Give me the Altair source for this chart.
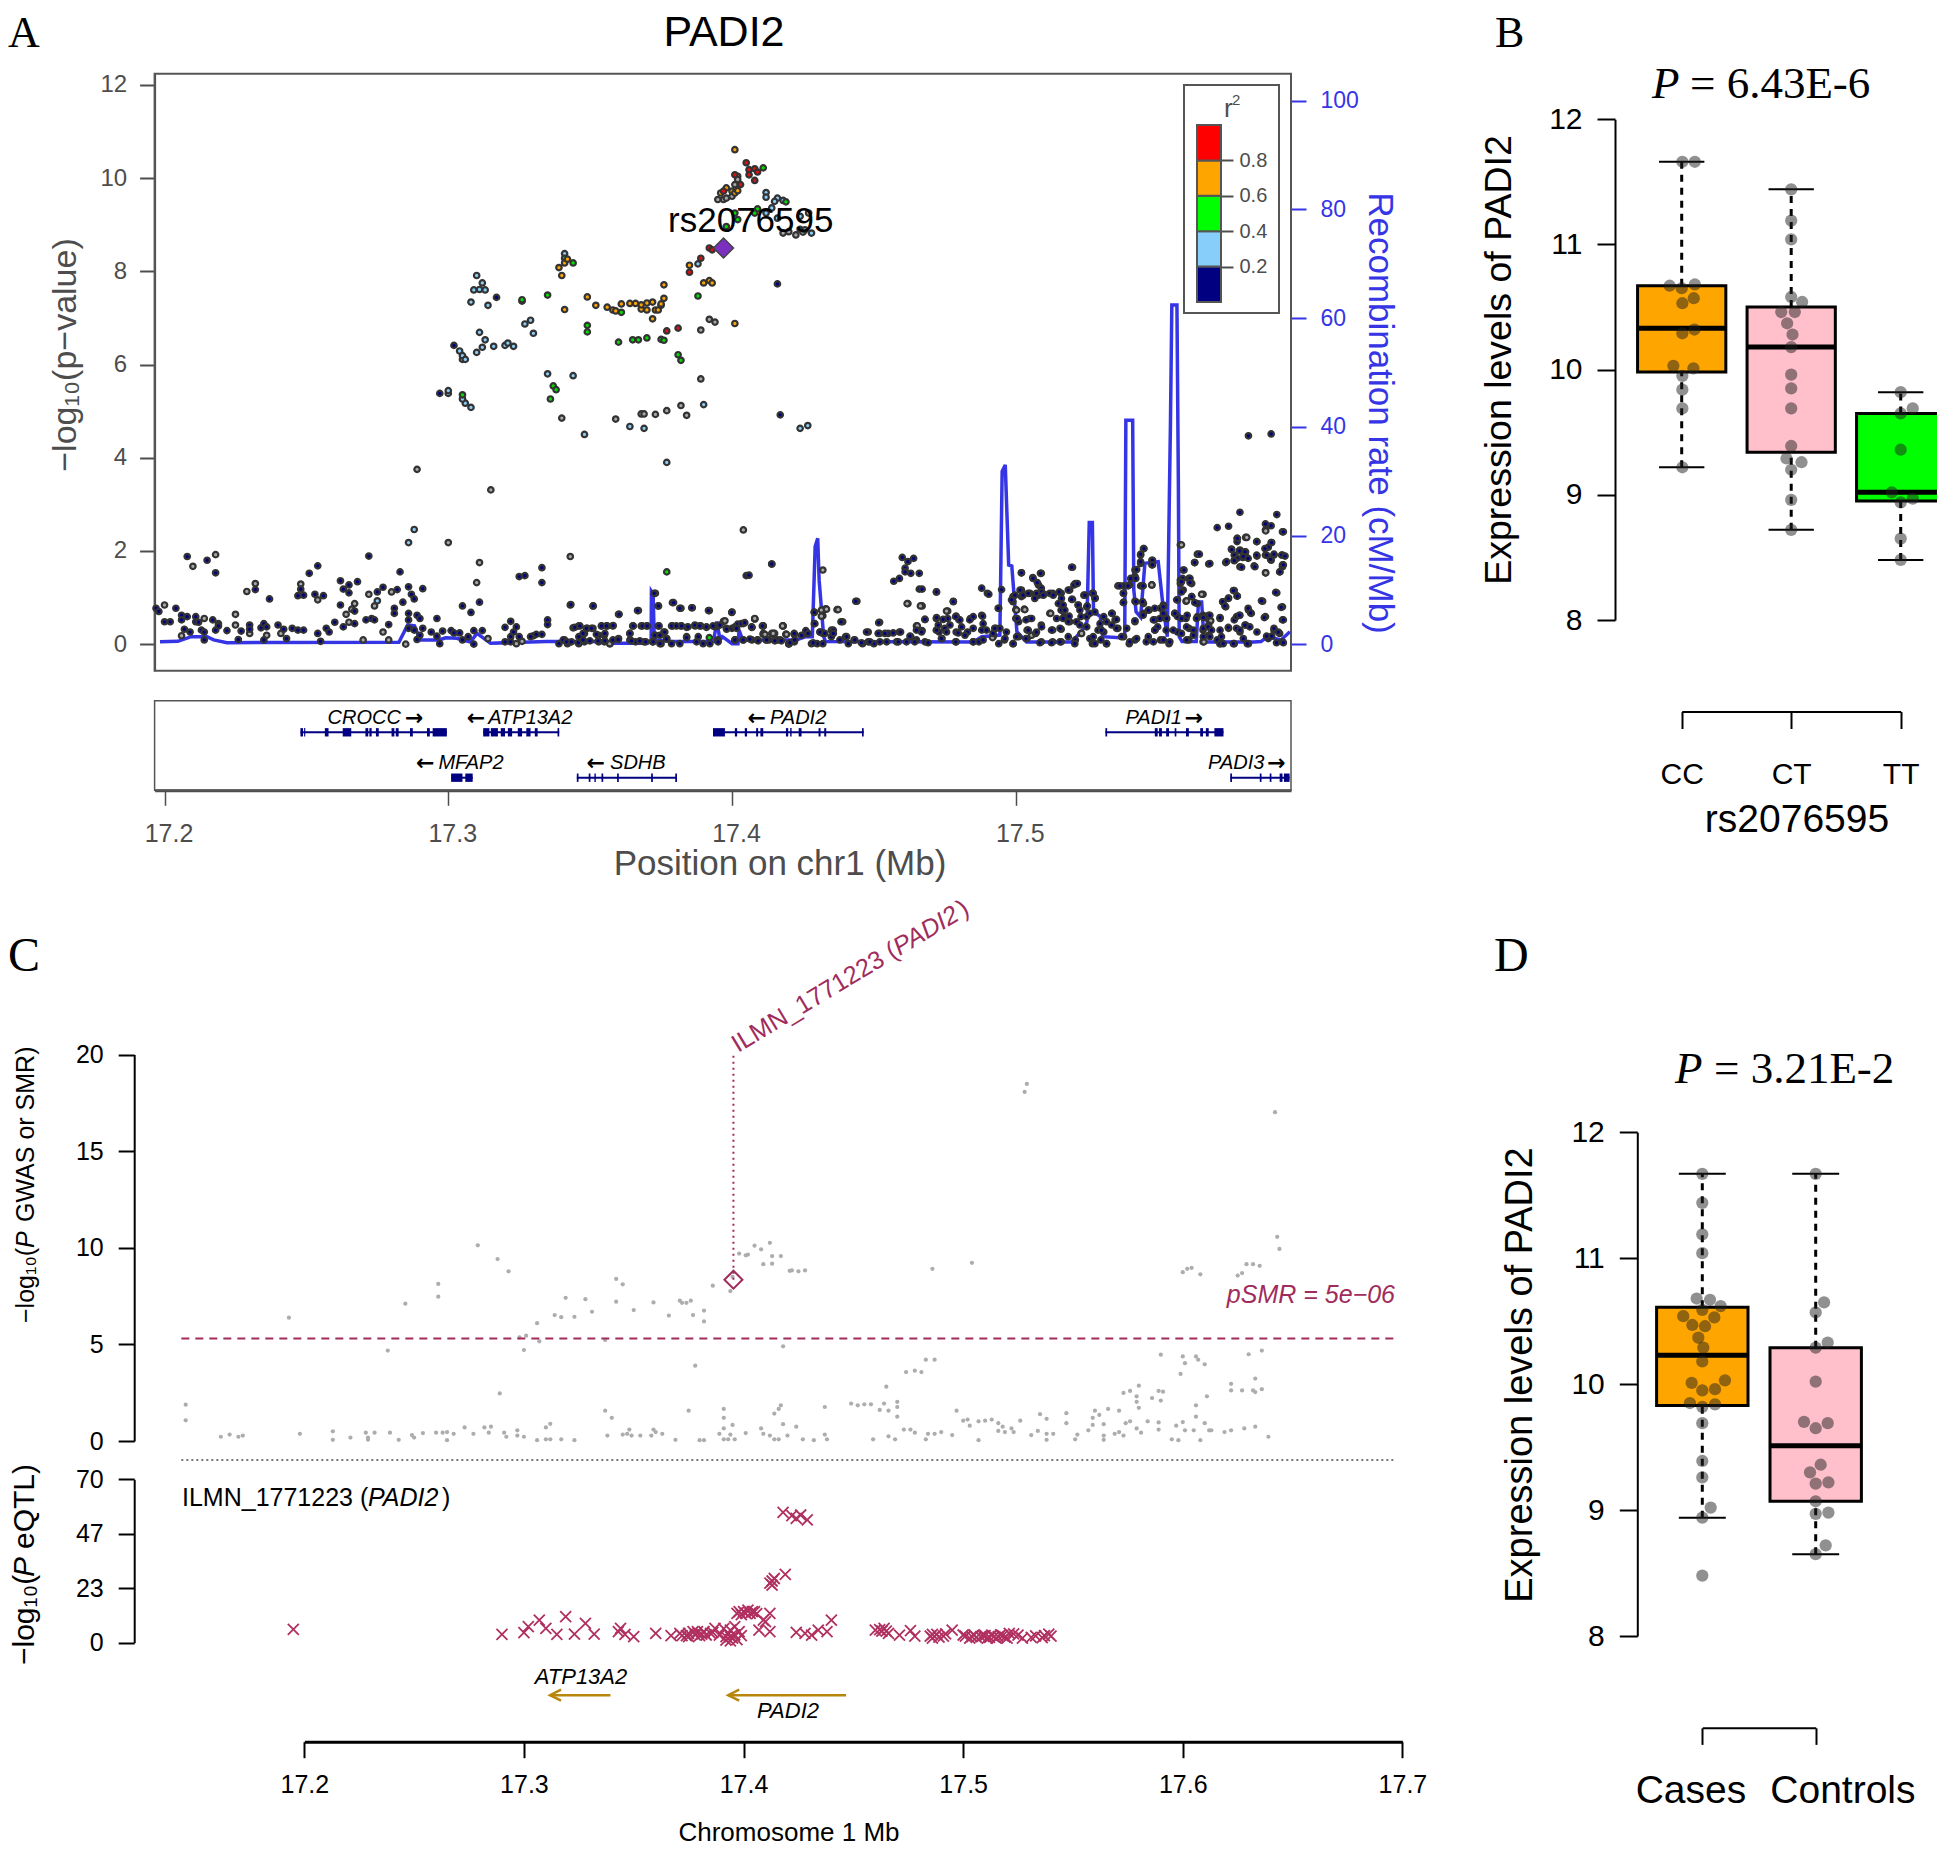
import altair as alt
import pandas as pd

# ---------- panel A: locus plot, (position Mb, -log10 p) per r2 class ----------
A_NAVY = [(17.197,.77),(17.198,.70),(17.204,.77),(17.200,.48),(17.202,.48),(17.206,.62),(17.206,.52),(17.207,.32),(17.208,1.88),(17.208,.59),(17.209,.26),(17.211,.59),(17.211,.48),(17.212,.47),(17.213,.30),(17.215,1.80),(17.214,.26),(17.214,.09),(17.217,.52),(17.218,1.53),(17.219,.44),(17.218,.30),(17.219,.39),(17.222,.29),(17.226,.10),(17.227,.28),(17.230,.41),(17.230,.32),(17.232,1.17),(17.234,.35),(17.235,.44),(17.235,.09),(17.236,.37),(17.237,.97),(17.240,.41),(17.242,.32),(17.243,.12),(17.245,.34),(17.247,.30),(17.249,.30),(17.247,1.04),(17.249,1.05),(17.248,1.18),(17.251,1.52),(17.254,1.68),(17.253,1.07),(17.256,1.04),(17.254,.23),(17.255,.06),(17.257,.34),(17.258,.26),(17.260,.47),(17.263,.37),(17.267,.44),(17.262,1.36),(17.263,1.18),(17.265,1.27),(17.265,1.10),(17.262,.84),(17.268,1.34),(17.267,.71),(17.271,.52),(17.272,1.89),(17.273,.55),(17.274,.52),(17.279,.42),(17.275,1.12),(17.277,1.22),(17.282,1.17),(17.283,1.55),(17.284,.90),(17.281,.77),(17.281,.66),(17.286,.66),(17.286,1.23),(17.287,1.07),(17.288,.97),(17.291,1.19),(17.289,.62),(17.290,.55),(17.286,.52),(17.286,.34),(17.289,.10),(17.288,.30),(17.290,.19),(17.291,.34),(17.294,.26),(17.296,.55),(17.298,.28),(17.296,.17),(17.297,.01),(17.301,.29),(17.302,.24),(17.304,.24),(17.305,.82),(17.305,.09),(17.307,.16),(17.308,.68),(17.309,.29),(17.309,0),(17.311,.90),(17.312,.29),(17.320,.36),(17.322,.49),(17.323,.26),(17.324,.37),(17.322,.16),(17.320,.05),(17.322,.05),(17.325,.16),(17.325,1.45),(17.327,1.47),(17.329,.16),(17.331,.21),(17.333,.21),(17.333,1.32),(17.333,1.64),(17.335,.52),(17.335,.42),(17.339,.01),(17.341,.09),(17.342,.01),(17.343,.84),(17.344,.35),(17.346,.39),(17.346,.01),(17.346,.16),(17.348,.23),(17.349,.34),(17.351,.34),(17.348,.05),(17.351,.82),(17.353,.19),(17.353,.05),(17.354,.39),(17.356,.39),(17.358,.39),(17.355,.19),(17.355,.05),(17.358,.09),(17.360,.64),(17.360,.12),(17.364,.23),(17.365,.39),(17.364,.09),(17.367,.72),(17.366,.05),(17.368,.39),(17.370,.39),(17.369,.05),(17.373,1.09),(17.374,.82),(17.374,.39),(17.373,.19),(17.372,.05),(17.375,.01),(17.376,.26),(17.377,.12),(17.379,.89),(17.379,.39),(17.382,.77),(17.382,.39),(17.384,.16),(17.384,.36),(17.386,.78),(17.387,.39),(17.389,.39),(17.391,.36),(17.392,.72),(17.394,.37),(17.395,.39),(17.395,.09),(17.398,.34),(17.400,.69),(17.400,.34),(17.401,.37),(17.402,.43),(17.404,.44),(17.401,.09),(17.404,.09),(17.405,1.47),(17.407,.09),(17.407,.36),(17.409,.09),(17.411,.39),(17.412,.09),(17.414,1.72),(17.415,.09),(17.417,.09),(17.420,0),(17.422,.21),(17.422,.05)]
A_NAVY_2 = [(17.414,1.72),(17.406,1.48),(17.411,.39),(17.407,.36),(17.413,.09),(17.409,.09),(17.416,.09),(17.420,.01),(17.422,.21),(17.426,.23),(17.426,.29),(17.429,.69),(17.429,.44),(17.428,.01),(17.431,.26),(17.432,.23),(17.430,.01),(17.432,.01),(17.435,.30),(17.435,.16),(17.439,.48),(17.438,.09),(17.440,.16),(17.443,.09),(17.441,.01),(17.444,.92),(17.446,.01),(17.448,.26),(17.448,.05),(17.450,.01),(17.452,.47),(17.452,.23),(17.455,.23),(17.459,.26),(17.458,.05),(17.463,.16),(17.465,.30),(17.467,.29),(17.465,.09),(17.468,.05),(17.468,.53),(17.457,1.35),(17.459,1.41),(17.460,1.86),(17.464,1.84),(17.462,1.77),(17.461,1.63),(17.461,1.55),(17.463,1.52),(17.466,1.52),(17.466,1.18),(17.467,1.18),(17.472,1.12),(17.472,.55),(17.476,.55),(17.472,.30),(17.473,.26),(17.475,.34),(17.474,.12),(17.478,.92),(17.479,.60),(17.480,.52),(17.479,.26),(17.479,.05),(17.484,.55),(17.483,.26),(17.485,.05),(17.488,.62),(17.488,1.20),(17.490,1.09),(17.488,.30),(17.487,.05),(17.493,.34),(17.492,.23),(17.494,.77),(17.495,1.17),(17.494,.01),(17.496,.09),(17.499,.01),(17.501,.16),(17.502,1.53),(17.499,.91),(17.499,1.02),(17.502,1.16),(17.502,1.02),(17.505,1.09),(17.501,.48),(17.500,.55),(17.504,.30),(17.505,.55),(17.504,.12),(17.509,.41),(17.507,.23),(17.509,.05),(17.506,1.43),(17.509,1.52),(17.508,1.27),(17.509,1.20),(17.508,1.05),(17.510,1.07),(17.513,1.09),(17.516,1.09),(17.515,.87),(17.516,.73),(17.517,.59),(17.519,.48),(17.513,.30),(17.516,.32),(17.513,.05),(17.516,.05),(17.519,1.16),(17.521,1.30),(17.520,1.65),(17.520,.96),(17.522,.84),(17.523,.59),(17.525,.80),(17.524,1.05),(17.527,1.09),(17.528,.99),(17.525,.37),(17.521,.09),(17.527,.01),(17.529,.30),(17.531,.59),(17.531,.26),(17.530,.09),(17.532,.01),(17.534,.66),(17.535,.52),(17.536,.34),(17.538,.16),(17.536,1.25),(17.538,1.25),(17.540,1.27),(17.538,1.09),(17.538,.90),(17.542,1.45),(17.542,1.59),(17.544,1.73),(17.544,1.91),(17.545,2.05),(17.548,1.80),(17.548,1.70),(17.544,1.25),(17.542,.92),(17.545,.87),(17.545,.66),(17.547,.73),(17.542,.48),(17.540,.01),(17.542,.09),(17.546,.05),(17.549,.52),(17.549,.30),(17.551,.77),(17.552,.84),(17.552,.66),(17.553,.55),(17.550,.37),(17.553,.30),(17.551,.09),(17.554,.01),(17.556,.66),(17.557,.59),(17.558,1.37),(17.558,1.30),(17.559,1.59),(17.561,1.41),(17.562,1.30),(17.559,1.16),(17.557,.95),(17.562,1.02),(17.564,.87),(17.560,.55),(17.561,.34),(17.557,.26),(17.561,.09),(17.564,.59),(17.566,.62),(17.568,.62),(17.568,.41),(17.566,.30),(17.568,.19),(17.572,.55),(17.571,.09),(17.572,.01),(17.573,.91),(17.575,.99),(17.577,1.15),(17.578,1.03),(17.574,.80),(17.579,.62),(17.577,.52),(17.575,.34),(17.579,.26),(17.577,.01),(17.581,.41),(17.582,.73),(17.583,.66),(17.587,.92),(17.588,.59),(17.585,.26),(17.582,.01),(17.589,.12),(17.591,.30),(17.593,.23),(17.594,.05),(17.594,.80),(17.594,.52),(17.592,1.10),(17.593,1.55),(17.594,1.66),(17.584,1.68),(17.579,1.66),(17.574,1.75),(17.568,1.72),(17.563,1.75),(17.564,1.93),(17.571,2.50),(17.575,2.53),(17.579,2.83),(17.592,2.78),(17.588,2.58),(17.590,2.54),(17.585,2.20),(17.578,2.27),(17.578,2.20),(17.590,2.18),(17.589,2.08),(17.576,2.04),(17.579,2.02),(17.581,1.98),(17.577,1.91),(17.581,1.88),(17.578,1.84),(17.585,1.89),(17.588,1.91),(17.591,1.91),(17.594,1.91),(17.594,2.41),(17.594,1.70),(17.590,1.80),(17.577,1.80),(17.580,1.86),(17.582,4.47),(17.590,4.51)]
A_NAVY_3 = [(17.297,5.38),(17.302,6.41),(17.317,7.44),(17.416,7.73),(17.417,4.92)]
A_NAVY_4 = [(17.4985,.95),(17.4997,1.05),(17.5015,1.16),(17.5026,1.05),(17.5044,1.09),(17.5067,.98),(17.5073,1.09),(17.5091,1.12),(17.5097,1.05),(17.5120,1.09),(17.5132,1.05),(17.5153,1.12),(17.5161,.98),(17.5167,.84),(17.5161,.73),(17.5173,.73),(17.5197,.96),(17.5185,1.16),(17.5205,1.27),(17.5217,1.30),(17.5061,1.41),(17.5076,1.32),(17.5087,1.52),(17.5020,1.53),(17.5197,1.65),(17.5244,1.05),(17.5273,1.09),(17.5279,.98),(17.5220,.84),(17.5226,.73),(17.5252,.82),(17.5144,.55),(17.5167,.55),(17.5188,.60),(17.5185,.48),(17.5214,.48),(17.5226,.41),(17.5250,.59),(17.5261,.66),(17.5279,.69),(17.5297,.44),(17.5320,.48),(17.5338,.66),(17.5355,.53),(17.5338,.41),(17.5355,.34),(17.5391,.34),(17.5420,.50),(17.5373,.16),(17.5402,.05),(17.5426,.12),(17.5467,.16),(17.5485,.05),(17.5520,.09),(17.5543,.05),(17.5490,.30),(17.5485,.52),(17.5508,.55),(17.5532,.55),(17.5520,.80),(17.5467,.73),(17.5490,.77),(17.5449,.62),(17.5423,.91),(17.5447,.91),(17.5379,.89),(17.5379,1.09),(17.5367,1.25),(17.5396,1.25),(17.5405,1.41),(17.5423,1.41),(17.5426,1.60),(17.5440,1.77),(17.5440,1.93),(17.5452,2.05),(17.5482,1.80),(17.5482,1.70),(17.5449,1.25),(17.5561,.66),(17.5584,.55),(17.5604,.62),(17.5567,.95),(17.5584,1.12),(17.5588,1.41),(17.5593,1.59),(17.5584,1.34),(17.5614,1.41),(17.5614,1.32),(17.5631,1.75),(17.5647,1.93),(17.5684,1.73),(17.5620,1.02),(17.5631,.89),(17.5637,.55),(17.5661,.57),(17.5684,.62),(17.5720,.57),(17.5767,1.15),(17.5781,1.03),(17.5749,.98),(17.5729,.91),(17.5737,.82),(17.5778,.59),(17.5788,.62),(17.5819,.77),(17.5828,.67),(17.5876,.57),(17.5866,.93),(17.5916,1.11),(17.5935,.79),(17.5943,.52),(17.5555,.30),(17.5584,.23),(17.5602,.37),(17.5626,.30),(17.5661,.34),(17.5678,.37),(17.5690,.30),(17.5661,.16),(17.5684,.16),(17.5720,.30),(17.5725,.16),(17.5749,.36),(17.5778,.34),(17.5808,.41),(17.5825,.37),(17.5790,.30),(17.5802,.12),(17.5767,.01),(17.5816,.01),(17.5910,.34),(17.5925,.26),(17.5884,.17),(17.5902,.17),(17.5943,.03),(17.5919,.03),(17.5720,.01),(17.5731,.01),(17.5602,.09),(17.5626,.19),(17.5085,.03),(17.5126,.03),(17.5156,.05),(17.5185,.16),(17.5208,.01),(17.5261,.12),(17.5279,.01),(17.5320,.01),(17.5302,.30),(17.5273,.16),(17.5091,.37),(17.5126,.30),(17.5156,.34),(17.5056,.55),(17.5036,.52),(17.5005,.55),(17.4967,.26),(17.4944,.34),(17.4962,.12),(17.5003,.16),(17.4991,.01),(17.5036,.12),(17.5044,.30),(17.5073,.26),(17.5781,2.27),(17.5849,2.20),(17.5902,2.18),(17.5878,2.05),(17.5943,2.41),(17.5761,2.03),(17.5788,2.00),(17.5808,1.98),(17.5802,1.88),(17.5819,1.84),(17.5849,1.91),(17.5884,1.91),(17.5910,1.93),(17.5937,1.91),(17.5898,1.82),(17.5949,1.89),(17.5743,1.77),(17.5770,1.79),(17.5796,1.65),(17.5843,1.66),(17.5943,1.70),(17.5931,1.55)]
A_NAVY_5 = [(17.3432,.85),(17.3511,.82),(17.3602,.64),(17.3667,.72),(17.3726,1.09),(17.3741,.82),(17.3794,.89),(17.3816,.77),(17.3858,.78),(17.3917,.72),(17.3999,.68),(17.3446,.36),(17.3464,.39),(17.3487,.34),(17.3505,.34),(17.3540,.39),(17.3558,.39),(17.3581,.40),(17.3652,.39),(17.3684,.39),(17.3701,.39),(17.3743,.39),(17.3787,.39),(17.3804,.39),(17.3822,.39),(17.3845,.37),(17.3869,.41),(17.3886,.39),(17.3910,.37),(17.3933,.39),(17.3957,.41),(17.3475,.23),(17.3522,.21),(17.3552,.23),(17.3640,.23),(17.3728,.19),(17.3746,.19),(17.3763,.26),(17.3840,.14),(17.3881,.16),(17.3405,.09),(17.3417,.05),(17.3434,.05),(17.3458,.03),(17.3475,.09),(17.3499,.07),(17.3528,.07),(17.3552,.07),(17.3599,.10),(17.3646,.07),(17.3675,.07),(17.3696,.05),(17.3722,.05),(17.3746,.01),(17.3769,.11),(17.3787,.01),(17.3816,.01),(17.3875,.05),(17.3898,.01),(17.3922,.01),(17.3951,.05),(17.3981,.32),(17.4016,.34),(17.4033,.44),(17.4045,.46),(17.4010,.09),(17.4039,.09),(17.4063,.11),(17.4069,.37),(17.4107,.39),(17.4092,.07),(17.4122,.09),(17.4151,.07),(17.4174,.07),(17.4204,.03),(17.4221,.09),(17.4219,.23),(17.4245,.19),(17.4268,.23),(17.4286,.03),(17.4292,.44),(17.4290,.68),(17.4310,.26),(17.4327,.23),(17.4357,.30),(17.4357,.23),(17.4384,.48),(17.4436,.92),(17.4404,.16),(17.4433,.09),(17.4456,.03),(17.4474,.26),(17.4517,.46),(17.4515,.23),(17.4539,.23),(17.4568,.24),(17.4594,.26),(17.4486,.05),(17.4521,.05),(17.4545,.05),(17.4586,.05),(17.4615,.05),(17.4627,.17),(17.4644,.05),(17.4680,.53),(17.4668,.26),(17.4691,.03),(17.4721,.57),(17.4721,.30),(17.4727,.41),(17.4744,.53),(17.4768,.41),(17.4738,.12),(17.4756,.26),(17.4788,.59),(17.4803,.52),(17.4788,.05),(17.4809,.37),(17.4797,.24),(17.4821,.19),(17.4838,.52),(17.4850,.59),(17.4883,.60),(17.4885,.44),(17.4850,.34),(17.4897,.30),(17.4926,.34),(17.4850,.05),(17.4885,.09),(17.4780,.91),(17.4721,1.12),(17.4905,1.07),(17.4938,.77)]
A_GRAY = [(17.200,.84),(17.206,.18),(17.210,1.67),(17.214,.55),(17.218,1.92),(17.225,.64),(17.229,1.13),(17.232,1.30),(17.225,.41),(17.230,.23),(17.236,.19),(17.241,.23),(17.254,.95),(17.248,1.29),(17.264,.64),(17.265,.47),(17.266,.75),(17.267,.87),(17.272,1.07),(17.274,.82),(17.277,.26),(17.270,.09),(17.279,.09),(17.280,1.12),(17.285,0),(17.289,3.75),(17.300,2.18),(17.315,3.31),(17.311,1.75),(17.310,1.32),(17.314,.12),(17.324,.01),(17.326,.06),(17.330,.18),(17.343,1.88),(17.357,.01),(17.404,2.45),(17.397,.49),(17.408,.54),(17.411,.23),(17.419,.21),(17.418,.39),(17.415,.23),(17.408,.54),(17.411,.21),(17.414,.23),(17.418,.39),(17.419,.21),(17.432,.71),(17.433,.76),(17.437,.74),(17.432,.61),(17.432,1.59),(17.462,.87),(17.467,.82),(17.465,.39),(17.476,.71),(17.500,.74),(17.503,.75),(17.512,.66),(17.548,1.27),(17.566,1.07),(17.558,2.13),(17.588,2.45),(17.581,2.29),(17.588,1.53),(17.568,.52),(17.566,.05),(17.560,.92),(17.492,.16),(17.523,.23),(17.340,4.85),(17.359,4.83),(17.368,4.94),(17.369,4.94),(17.373,4.93),(17.377,5.01),(17.382,5.12),(17.384,4.91),(17.389,5.69),(17.389,6.74),(17.392,6.97),(17.394,6.91),(17.305,6.11),(17.397,9.54),(17.398,9.57),(17.400,9.61),(17.401,9.86),(17.402,10.04),(17.402,9.97),(17.396,8.50),(17.395,9.54),(17.418,8.82),(17.420,8.85),(17.4225,8.78),(17.424,8.90),(17.425,8.84)]
A_GRAY_2 = [(17.5003,.73),(17.5032,.74),(17.5123,.66),(17.5056,.19),(17.5232,.23),(17.5479,1.27),(17.5602,.93),(17.5655,1.07),(17.5687,.50),(17.5663,.05),(17.5814,2.29),(17.5881,2.43),(17.5881,1.53),(17.5584,2.13),(17.3975,.50),(17.4080,.55),(17.4178,.39),(17.4315,.73),(17.4333,.75),(17.4374,.74),(17.4315,.60),(17.4617,.87),(17.4664,.82),(17.4756,.71),(17.4653,.39),(17.4116,.21),(17.4192,.21),(17.4145,.23),(17.4918,.14),(17.3569,.01)]
A_BLUE = [(17.288,2.46),(17.286,2.18),(17.275,.93),(17.377,3.90),(17.300,5.38),(17.300,5.44),(17.306,5.17),(17.308,5.08),(17.305,5.26),(17.304,6.29),(17.305,6.19),(17.306,6.11),(17.310,6.26),(17.312,6.37),(17.313,6.53),(17.311,6.69),(17.316,6.39),(17.320,6.41),(17.321,6.46),(17.323,6.39),(17.327,6.87),(17.329,6.95),(17.330,6.67),(17.308,7.34),(17.314,7.27),(17.309,7.60),(17.312,7.75),(17.310,7.91),(17.311,7.61),(17.313,7.60),(17.335,5.80),(17.344,5.76),(17.341,8.38),(17.348,4.50),(17.364,4.67),(17.369,4.63),(17.390,5.14),(17.388,8.16),(17.412,9.69),(17.412,9.59),(17.416,9.57),(17.418,9.52),(17.415,9.50),(17.414,9.36),(17.412,9.25),(17.416,9.14),(17.4257,8.89),(17.428,8.82),(17.427,9.25),(17.424,9.18),(17.4267,4.69),(17.424,4.63)]
A_GREEN = [(17.377,1.55),(17.392,.14),(17.305,5.35),(17.337,5.54),(17.338,5.46),(17.336,5.26),(17.360,6.48),(17.365,6.53),(17.367,6.53),(17.370,6.57),(17.375,6.54),(17.376,6.52),(17.381,6.21),(17.382,6.09),(17.349,6.84),(17.349,6.70),(17.326,7.36),(17.326,7.39),(17.335,7.49),(17.361,7.12),(17.388,7.47),(17.341,8.28),(17.344,8.18),(17.398,8.96),(17.401,9.25),(17.402,9.11),(17.409,9.34),(17.408,9.25),(17.411,10.22),(17.419,9.49)]
A_ORANGE = [(17.339,8.08),(17.340,7.91),(17.341,8.18),(17.342,8.26),(17.341,7.18),(17.349,7.45),(17.352,7.27),(17.356,7.23),(17.358,7.17),(17.359,7.15),(17.361,7.30),(17.364,7.31),(17.366,7.31),(17.368,7.19),(17.368,7.28),(17.370,7.32),(17.370,7.17),(17.372,7.34),(17.372,6.98),(17.373,7.17),(17.374,7.17),(17.375,7.27),(17.375,7.30),(17.376,7.42),(17.376,7.71),(17.390,7.75),(17.392,7.80),(17.393,7.75),(17.401,6.88),(17.385,8.13),(17.401,10.61),(17.396,9.68),(17.398,9.79),(17.400,9.72),(17.401,9.68),(17.402,9.73)]
A_RED = [(17.377,6.72),(17.381,6.78),(17.385,7.98),(17.389,8.28),(17.392,8.50),(17.393,8.46),(17.397,9.72),(17.403,9.86),(17.405,10.33),(17.406,10.18),(17.408,10.20),(17.409,10.13),(17.401,10.07),(17.406,10.07),(17.408,9.95)]
A_LEAD = [(17.397,8.50)]
RECOMB = [(17.1984,.48),(17.2047,.55),(17.2094,1.4),(17.215,1.4),(17.2173,.8),(17.222,.3),(17.2826,.36),(17.2857,3.55),(17.2881,3.4),(17.2901,.8),(17.2967,.8),(17.2991,1.2),(17.303,1.1),(17.3078,.4),(17.3101,2.0),(17.3149,.2),(17.3345,.5),(17.351,.5),(17.358,.2),(17.370,.2),(17.3715,.5),(17.3716,9.7),(17.3722,9.2),(17.3726,.8),(17.3785,.5),(17.3935,.5),(17.3946,4.2),(17.3958,.8),(17.3966,1.4),(17.400,.1),(17.4021,.1),(17.4025,2.6),(17.4037,.8),(17.4226,.8),(17.4260,1.4),(17.4283,1.4),(17.4293,18),(17.4302,19.5),(17.4307,11.8),(17.4323,1.4),(17.4330,.5),(17.485,.4),(17.488,1.4),(17.4944,1.7),(17.4952,31.8),(17.4963,33),(17.4975,14.6),(17.4986,14.4),(17.5004,2.3),(17.5038,.4),(17.5196,.4),(17.5235,2.6),(17.5251,4.2),(17.5259,22.4),(17.527,22.4),(17.5274,6),(17.5298,5.1),(17.5306,1.4),(17.5369,1.2),(17.5384,1.4),(17.5388,41.2),(17.5412,41.2),(17.5416,10),(17.5424,6),(17.544,5),(17.5455,14.9),(17.5502,15.2),(17.5518,7.5),(17.5534,1.4),(17.5545,40),(17.555,62.4),(17.5568,62.4),(17.5573,30),(17.5576,1.4),(17.5586,.5),(17.5636,.5),(17.5644,7.8),(17.5655,7.8),(17.5664,.4),(17.584,.4),(17.5864,.5),(17.5888,1.4),(17.5935,.8),(17.5966,2.3)]
R2_BANDS = [(0,.2,"#000080"),(.2,.4,"#87cefa"),(.4,.6,"#00ff00"),(.6,.8,"#ffa500"),(.8,1,"#ff0000")]

GENES = [("CROCC","\u2192",1,17.2479,17.2995,17.2704,17.2880),("ATP13A2","\u2190",1,17.3123,17.3391,17.3289,17.3098),("PADI2","\u2190",1,17.3933,17.4464,17.4233,17.4087),("PADI1","\u2192",1,17.5316,17.5732,17.5486,17.5628),("MFAP2","\u2190",0,17.3010,17.3086,17.3080,17.2919),("SDHB","\u2190",0,17.3453,17.3806,17.3668,17.3520),("PADI3","\u2192",0,17.5756,17.5965,17.5777,17.5919)]
EXONS = [(1,17.2479,17.2488),(1,17.2492,17.2496),(1,17.2565,17.2578),(1,17.2628,17.2658),(1,17.2708,17.2718),(1,17.2722,17.2730),(1,17.2745,17.2755),(1,17.2800,17.2810),(1,17.2815,17.2825),(1,17.2865,17.2875),(1,17.2925,17.2935),(1,17.2945,17.2995),
 (1,17.3123,17.3145),(1,17.3150,17.3175),(1,17.3185,17.3200),(1,17.3210,17.3225),(1,17.3245,17.3260),(1,17.3275,17.3290),(1,17.3305,17.3315),(1,17.3385,17.3391),
 (1,17.3933,17.3975),(1,17.4010,17.4018),(1,17.4045,17.4053),(1,17.4085,17.4092),(1,17.4100,17.4110),(1,17.4190,17.4198),(1,17.4205,17.4210),(1,17.4235,17.4245),(1,17.4305,17.4312),(1,17.4325,17.4332),(1,17.4458,17.4464),
 (1,17.5316,17.5322),(1,17.5490,17.5500),(1,17.5505,17.5515),(1,17.5530,17.5540),(1,17.5560,17.5566),(1,17.5600,17.5610),(1,17.5650,17.5660),(1,17.5670,17.5680),(1,17.5700,17.5732),
 (0,17.3010,17.3050),(0,17.3060,17.3086),
 (0,17.3453,17.3459),(0,17.3495,17.3501),(0,17.3515,17.3520),(0,17.3540,17.3546),(0,17.3595,17.3601),(0,17.3715,17.3721),(0,17.3800,17.3806),
 (0,17.5756,17.5762),(0,17.5860,17.5866),(0,17.5895,17.5901),(0,17.5930,17.5940),(0,17.5945,17.5965)]

# ---------- panel C: SMR locus ----------
C_GWAS = [(17.146,1.88),(17.146,1.07),(17.162,.22),(17.166,.33),(17.170,.22),(17.172,.28),(17.193,6.38),(17.198,.37),(17.213,.50),(17.213,.06),(17.221,.18),(17.228,.43),(17.229,.18),(17.229,.07),(17.232,.43),(17.239,.43),(17.243,.06),(17.238,4.68),(17.246,7.11),(17.249,.31),(17.250,.18),(17.254,.41),(17.261,8.13),(17.261,7.47),(17.260,.43),(17.263,.43),(17.265,.46),(17.265,.04),(17.268,.37),(17.273,.70),(17.277,.37),(17.279,10.13),(17.282,.70),(17.284,.43),(17.285,.74),(17.288,9.42),(17.289,2.46),(17.291,.43),(17.292,.22),(17.293,8.78),(17.297,.55),(17.297,.28),(17.300,.22),(17.300,4.71),(17.298,5.36),(17.301,5.45),(17.306,6.10),(17.307,5.16),(17.306,.04),(17.310,.70),(17.312,.89),(17.310,.09),(17.312,.09),(17.314,6.52),(17.317,6.41),(17.319,7.41),(17.323,6.43),(17.328,7.34),(17.331,6.69),(17.317,.09),(17.323,.04),(17.337,1.57),(17.340,1.20),(17.338,.28),(17.337,5.23),(17.342,8.39),(17.345,8.11),(17.342,7.21),(17.350,6.78),(17.345,.33),(17.347,.37),(17.348,.59),(17.349,.28),(17.353,.28),(17.358,.28),(17.359,.59),(17.360,.46),(17.363,.37),(17.359,7.17),(17.366,6.49),(17.369,.06),(17.371,7.26),(17.372,7.15),(17.374,7.15),(17.376,7.26),(17.377,6.52),(17.382,6.75),(17.382,6.19),(17.378,3.90),(17.375,1.57),(17.380,.04),(17.382,.04),(17.386,8.04),(17.391,1.66),(17.391,1.20),(17.389,.37),(17.391,.65),(17.391,.09),(17.394,.33),(17.395,.83),(17.396,.09),(17.393,.09),(17.394,7.76),(17.395,8.50),(17.401,.41),(17.408,.65),(17.409,.37),(17.412,.28),(17.414,1.42),(17.416,1.66),(17.417,1.85),(17.418,.87),(17.418,4.90),(17.414,.09),(17.416,.09),(17.420,.28),(17.424,.74),(17.398,9.70),(17.401,9.61),(17.402,9.65),(17.405,10.11),(17.408,9.92),(17.412,10.26),(17.413,9.18),(17.409,9.15),(17.413,9.57),(17.417,9.57),(17.421,8.81)]
C_GWAS_2 = [(17.427,.09),(17.432,.04),(17.437,1.76),(17.437,.33),(17.438,.09),(17.449,1.94),(17.452,1.85),(17.455,1.90),(17.458,1.90),(17.462,1.61),(17.464,1.94),(17.466,1.57),(17.470,2.03),(17.470,1.76),(17.470,1.26),(17.465,2.81),(17.459,.09),(17.466,.24),(17.469,.09),(17.473,.59),(17.476,.59),(17.478,.43),(17.483,.09),(17.484,.37),(17.487,.37),(17.490,.46),(17.495,.31),(17.474,3.57),(17.478,3.64),(17.481,3.57),(17.483,4.21),(17.487,4.21),(17.497,1.57),(17.500,1.05),(17.502,1.11),(17.503,.79),(17.507,1.02),(17.510,1.05),(17.513,1.11),(17.516,.92),(17.518,.74),(17.516,.52),(17.519,.46),(17.522,.65),(17.523,.46),(17.526,1.05),(17.507,.04),(17.531,.31),(17.535,1.39),(17.534,.52),(17.538,1.15),(17.538,.37),(17.541,.37),(17.538,.06),(17.547,1.44),(17.547,.92),(17.552,.33),(17.551,.09),(17.557,.55),(17.559,.83),(17.559,1.20),(17.560,1.57),(17.562,1.35),(17.566,1.66),(17.571,1.57),(17.564,.87),(17.564,.28),(17.564,.06),(17.569,.37),(17.571,.46),(17.573,.28),(17.573,2.49),(17.576,2.59),(17.580,2.86),(17.579,2.31),(17.579,2.03),(17.580,1.72),(17.586,2.22),(17.589,2.59),(17.591,2.55),(17.590,2.09),(17.574,.92),(17.576,1.02),(17.579,.65),(17.581,.43),(17.584,1.02),(17.589,.96),(17.589,.59),(17.595,.09),(17.598,.04),(17.597,.79),(17.600,.98),(17.601,.55),(17.605,.55),(17.606,1.85),(17.606,1.26),(17.610,.92),(17.611,2.31),(17.612,.55),(17.613,.55),(17.608,.04),(17.619,.46),(17.622,.55),(17.628,.65),(17.633,.74),(17.639,.22),(17.599,3.47),(17.590,4.47),(17.600,4.38),(17.601,4.03),(17.606,4.38),(17.607,4.21),(17.610,3.97),(17.630,4.49),(17.636,4.68),(17.622,2.96),(17.622,2.62),(17.627,2.62),(17.632,2.62),(17.633,3.23),(17.633,2.53),(17.636,2.68),(17.422,8.83),(17.425,8.78),(17.428,8.83),(17.486,8.91),(17.504,9.22),(17.600,8.74),(17.602,8.91),(17.604,8.96),(17.608,8.63),(17.625,8.56),(17.627,8.69),(17.629,9.15),(17.632,9.15),(17.635,9.07),(17.529,18.48),(17.528,18.07),(17.642,17.02),(17.643,10.57),(17.644,9.94)]
C_EQTL = [(17.195,5.7),(17.290,3.57),(17.300,4.29),(17.302,6.86),(17.307,9.71),(17.310,6.14),(17.315,3.57),(17.319,11.14),(17.323,3.71),(17.328,8.29),(17.332,3.71),(17.343,4.71),(17.346,3.57),(17.344,6.14),(17.350,2.57),(17.360,4.0),(17.367,3.0),(17.371,4.0),(17.375,4.0),(17.377,4.71),(17.379,4.71),(17.382,4.71),(17.387,6.14),(17.389,3.29),(17.392,2.57),(17.394,5.43),(17.396,6.86),(17.398,4.71),(17.392,1.14),(17.394,2.57),(17.397,12.57),(17.400,13.29),(17.405,13.29),(17.398,13.29),(17.403,12.57),(17.409,9.71),(17.412,12.57),(17.410,9.0),(17.407,5.43),(17.412,4.71),(17.418,55.86),(17.422,54.43),(17.424,53.29),(17.426,54.71),(17.429,52.57),(17.419,29.29),(17.413,26.43),(17.413,24.71),(17.424,4.43),(17.428,4.0),(17.431,3.29),(17.434,5.43),(17.438,4.71),(17.440,9.71),(17.460,5.43),(17.464,6.14),(17.466,4.0),(17.471,3.29),(17.476,5.14),(17.478,2.86),(17.485,2.86),(17.488,3.57),(17.491,2.86),(17.495,5.43),(17.501,2.86),(17.504,2.57),(17.508,2.57),(17.512,2.29),(17.516,2.57),(17.518,3.0),(17.521,4.0),(17.525,3.29),(17.531,2.29),(17.537,3.0),(17.539,3.71),(17.372,3.0),(17.374,3.0),(17.378,3.4),(17.381,3.7),(17.385,4.0),(17.401,12.6),(17.404,13.3),(17.396,3.3),(17.394,.8),(17.399,3.0),(17.505,3.4),(17.510,3.0),(17.514,2.6),(17.519,2.4),(17.486,3.6),(17.492,3.8),(17.463,5.0),(17.500,3.3),(17.503,2.0),(17.506,2.3),(17.509,3.0),(17.511,2.0),(17.513,3.2),(17.515,2.0),(17.517,3.4),(17.520,2.0),(17.523,3.8),(17.527,2.0),(17.533,2.9),(17.536,2.2),(17.540,2.8),(17.486,2.0),(17.489,2.4),(17.462,5.6),(17.465,5.0),(17.375,2.6),(17.380,3.0),(17.383,3.3),(17.386,4.4),(17.391,6.0),(17.393,4.0),(17.395,2.0),(17.397,1.3),(17.399,12.0),(17.402,14.0),(17.406,12.5),(17.414,27.5),(17.412,25.5)]
C_ARROWS = [(17.3394,17.3119),(17.4467,17.3930)]

# ---------- panels B and D: boxplots (group, low, q1, median, q3, high, fill) ----------
B_BOX = [(1,9.22,9.98,10.33,10.67,11.66,"#ffa500"),(2,8.72,9.34,10.18,10.50,11.44,"#ffc0cb"),(3,8.48,8.95,9.02,9.65,9.82,"#00ff00")]
B_PTS = [(1.006,11.66),(1.12,11.66),(.89,10.67),(1.0,10.65),(1.12,10.68),(1.006,10.53),(1.11,10.57),(1.006,10.29),(1.116,10.32),(.924,10.03),(1.107,10.01),(1.006,9.95),(1.006,9.84),(1.006,9.69),(1.006,9.22),
 (2,11.44),(2,11.19),(2,11.04),(2,10.58),(2.10,10.54),(1.909,10.46),(2.033,10.46),(1.963,10.37),(2.012,10.28),(2,10.18),(2,9.96),(2,9.85),(2,9.69),(2,9.39),(1.957,9.29),(2.094,9.26),(2,9.20),(2,8.96),(2,8.72),
 (3,9.82),(3.11,9.69),(3,9.65),(3,9.36),(2.918,9.02),(3,8.94),(3.11,8.97),(3,8.65),(3,8.48)]
D_BOX = [(1,8.94,9.83,10.23,10.61,11.67,"#ffa500"),(2,8.65,9.07,9.51,10.29,11.67,"#ffc0cb")]
D_PTS = [(1,11.67),(1,11.44),(1,11.19),(1,11.04),(.95,10.68),(1.068,10.67),(1.162,10.62),(1,10.59),(.832,10.54),(1.106,10.53),(.912,10.47),(1.024,10.46),(.965,10.37),(1.009,10.29),(1,10.18),(1.2,10.03),(.906,10.01),(1,9.95),(1.112,9.96),(.891,9.85),(1,9.82),(1.112,9.84),(1,9.69),(1,9.39),(1,9.26),(1.074,9.02),(1,8.94),(1,8.48),
 (2,11.67),(2.074,10.65),(2,10.57),(2.106,10.33),(2,10.29),(2,10.02),(1.897,9.70),(2.106,9.69),(2,9.65),(2.044,9.36),(1.95,9.30),(2.112,9.22),(2,9.21),(2,9.07),(2,8.97),(2.112,8.98),(2.088,8.72),(2,8.65)]
D_LABELS = [("Cases",.90),("Controls",2.24)]

# ---------- layout: page pixel positions of each panel ----------
M = 8
W, H = 1929, 1842
SANS, SERIF = "Liberation Sans", "Liberation Serif"
GREY, BLUE, PLUM, GOLD = "#4d4d4d", "#3535e6", "#a02c5c", "#b8860b"

def sc(d0, d1, r0, r1):
    return alt.Scale(domain=[d0, d1], range=[r0 - M, r1 - M], nice=False, zero=False)

AX = sc(17.1965, 17.597, 154.6, 1291)
AY = sc(-.57, 12.24, 670.7, 73.7)
RY = sc(-4.86, 104.97, 670.7, 73.7)
LX = sc(0, 1, 1197, 1221)
LY = sc(0, 1, 302, 125)
GY = sc(0, 1, 777.7, 732.3)
GFY = sc(-.29, 1.69, 790.3, 700.7)
BX = sc(1, 3, 1681.7, 1900.7)
BY = sc(8, 12, 620, 119.2)
DX = sc(1, 2, 1702.3, 1815.7)
DY = sc(8, 12, 1636, 1132.3)
CX = sc(17.2, 17.7, 304.3, 1402.4)
CY = sc(0, 20, 1441, 1054.6)
QY = sc(0, 70, 1642.7, 1479.3)

def bottom_off(y): return (y - M) - H
def left_off(x): return -(x - M)
def right_off(x): return (x - M) - W

def axis(orient, offset, values, size=24, color="black", tick=15, pad=13, width=2, fmt=None, expr=None, labels=True, domain=True, dw=None, loff=0):
    kw = dict(orient=orient, offset=offset, values=values, title=None, grid=False, tickSize=tick, tickWidth=width,
              tickColor=color, domain=domain, labels=labels, labelFont=SANS, labelFontSize=size, labelColor=color,
              labelPadding=pad, labelOverlap=False, labelFlush=False, labelOffset=loff)
    if domain:
        kw.update(domainColor=color, domainWidth=dw or width)
    if fmt: kw["format"] = fmt
    if expr: kw["labelExpr"] = expr
    return alt.Axis(**kw)

def pairs(rows, a="x", b="y"):
    return pd.DataFrame(rows, columns=[a, b])

def xy(xs, ys, xaxis=None, yaxis=None):
    return dict(x=alt.X("x:Q", scale=xs, axis=xaxis), y=alt.Y("y:Q", scale=ys, axis=yaxis))

def dots(rows, fill, stroke="#333333"):
    return alt.Chart(pairs(rows)).mark_circle(size=30, fill=fill, stroke=stroke, strokeWidth=2.2, opacity=1).encode(**xy(AX, AY))

def txt(label, x, y, size, color="black", font=SANS, style="normal", angle=0, align="center", baseline="middle"):
    return alt.Chart(pd.DataFrame({"t": [label]})).mark_text(font=font, fontSize=size, color=color, fontStyle=style,
        angle=angle, align=align, baseline=baseline).encode(x=alt.value(x - M), y=alt.value(y - M), text="t:N")

def frame(x0, x1, y0, y1, xs, ys, xaxis=None, yaxis=None, stroke="#555555", sw=2):
    return alt.Chart(pd.DataFrame({"x": [x0], "x1": [x1], "y": [y0], "y1": [y1]})).mark_rect(
        fillOpacity=0, stroke=stroke, strokeWidth=sw).encode(
        x=alt.X("x:Q", scale=xs, axis=xaxis), x2="x1:Q", y=alt.Y("y:Q", scale=ys, axis=yaxis), y2="y1:Q")

layers = []

# --- A: main panel
layers.append(frame(17.1965, 17.597, -.57, 12.24, AX, AY,
    yaxis=axis("left", left_off(154.6), list(range(0, 13, 2)), size=24, color=GREY, pad=13, width=2)))
layers.append(alt.Chart(pairs(RECOMB)).mark_line(color=BLUE, strokeWidth=3.5, interpolate="linear").encode(
    **xy(AX, RY, yaxis=axis("right", right_off(1291), [0, 20, 40, 60, 80, 100], size=23, color=BLUE, pad=14, dw=.01))))
for rows, fill in [(A_GRAY, "#a8a8a8"), (A_GRAY_2, "#a8a8a8"), (A_NAVY, "#000080"), (A_NAVY_2, "#000080"), (A_NAVY_4, "#000080"), (A_NAVY_5, "#000080"),
                   (A_BLUE, "#87cefa"), (A_GREEN, "#00e000"), (A_ORANGE, "#ffa500"), (A_RED, "#e01010"), (A_NAVY_3, "#000080")]:
    layers.append(dots(rows, fill))
layers.append(alt.Chart(pairs(A_LEAD)).mark_point(shape="diamond", size=400, filled=True, fill="#7b2fc0", stroke="#444444", strokeWidth=1.5, opacity=1).encode(**xy(AX, AY)))
layers.append(alt.Chart(pd.DataFrame({"x": [17.4066], "y": [9.08], "t": ["rs2076595"]})).mark_text(font=SANS, fontSize=35, color="black").encode(
    text="t:N", **xy(AX, AY)))

# --- A: r2 colour bar
layers.append(alt.Chart(pd.DataFrame({"y": [0], "x": [0], "x1": [1], "y1": [1]})).mark_rect(fillOpacity=0, stroke="#555555", strokeWidth=2).encode(
    x=alt.X("x:Q", scale=sc(0, 1, 1184, 1279), axis=None), x2="x1:Q", y=alt.Y("y:Q", scale=sc(0, 1, 313, 85), axis=None), y2="y1:Q"))
layers.append(alt.Chart(pd.DataFrame([{"y": a, "y1": b, "c": c, "x": 0, "x1": 1} for a, b, c in R2_BANDS])).mark_rect(stroke="#555555", strokeWidth=2).encode(
    x=alt.X("x:Q", scale=LX, axis=None), x2="x1:Q",
    y=alt.Y("y:Q", scale=LY, axis=axis("right", right_off(1221), [.2, .4, .6, .8], size=20, color=GREY, tick=12, pad=6, domain=False, fmt=".1f")),
    y2="y1:Q", fill=alt.Fill("c:N", scale=None)))
layers.append(txt("r", 1224, 117, 26, color=GREY, align="left", baseline="alphabetic"))
layers.append(txt("2", 1232, 105, 15, color=GREY, align="left", baseline="alphabetic"))

# --- A: gene track
layers.append(frame(17.1965, 17.597, -.29, 1.69, AX, GFY, stroke="#555555", sw=1.5))
layers.append(alt.Chart(pd.DataFrame({"x": [17.1965], "x1": [17.597], "y": [-.29]})).mark_rule(opacity=0).encode(
    x=alt.X("x:Q", scale=sc(17.1965, 17.597, 154.6, 1291),
            axis=axis("bottom", bottom_off(790.3), [17.2, 17.3, 17.4, 17.5], size=25, color=GREY, tick=15, pad=16, width=1.5, dw=3, fmt=".1f", loff=4)),
    x2="x1:Q", y=alt.Y("y:Q", scale=GFY, axis=None)))
gdf = pd.DataFrame(GENES, columns=["name", "arrow", "y", "x", "x1", "c", "a"])
gdf["ty"] = gdf["y"] + .32
layers.append(alt.Chart(gdf).mark_rule(color="#000080", strokeWidth=2).encode(
    x=alt.X("x:Q", scale=AX, axis=None), x2="x1:Q", y=alt.Y("y:Q", scale=GY, axis=None)))
edf = pd.DataFrame(EXONS, columns=["t", "x", "x1"])
edf["y"], edf["y1"] = edf["t"] - .092, edf["t"] + .092
layers.append(alt.Chart(edf).mark_rect(color="#000080").encode(
    x=alt.X("x:Q", scale=AX, axis=None), x2="x1:Q", y=alt.Y("y:Q", scale=GY, axis=None), y2="y1:Q"))
layers.append(alt.Chart(gdf).mark_text(font=SANS, fontSize=20, fontStyle="italic", color="black").encode(
    x=alt.X("c:Q", scale=AX, axis=None), y=alt.Y("ty:Q", scale=GY, axis=None), text="name:N"))
layers.append(alt.Chart(gdf).mark_text(font="DejaVu Sans", fontSize=22, fontWeight="bold", color="black").encode(
    x=alt.X("a:Q", scale=AX, axis=None), y=alt.Y("ty:Q", scale=GY, axis=None), text="arrow:N"))

# --- boxplots
def boxes(stats, pts, xs, ys, yaxis, xaxis, half=.403, cap=.207):
    d = pd.DataFrame(stats, columns=["g", "low", "q1", "med", "q3", "high", "fill"])
    d["x0"], d["x1"] = d["g"] - half, d["g"] + half
    d["c0"], d["c1"] = d["g"] - cap, d["g"] + cap
    base = alt.Chart(d)
    X = lambda f, a=None: alt.X(f + ":Q", scale=xs, axis=a)
    Y = lambda f, a=None: alt.Y(f + ":Q", scale=ys, axis=a)
    out = []
    for a, b in [("q3", "high"), ("low", "q1")]:
        out.append(base.mark_rule(color="black", strokeWidth=3, strokeDash=[7, 6]).encode(x=X("g"), y=Y(a), y2=b + ":Q"))
    for f in ["low", "high"]:
        out.append(base.mark_rule(color="black", strokeWidth=2).encode(x=X("c0"), x2="c1:Q", y=Y(f)))
    out.append(base.mark_rect(stroke="black", strokeWidth=3).encode(x=X("x0", xaxis), x2="x1:Q", y=Y("q1", yaxis), y2="q3:Q", fill=alt.Fill("fill:N", scale=None)))
    out.append(base.mark_rule(color="black", strokeWidth=5).encode(x=X("x0"), x2="x1:Q", y=Y("med")))
    out.append(alt.Chart(pairs(pts)).mark_circle(size=150, color="#222222", opacity=.5).encode(**xy(xs, ys)))
    return out

layers += boxes(B_BOX, B_PTS, BX, BY,
    axis("left", left_off(1615), [8, 9, 10, 11, 12], size=30, tick=18, pad=15),
    axis("bottom", bottom_off(711.5), [1, 2, 3], size=30, tick=17, pad=31, expr="['CC','CT','TT'][datum.value-1]"))
layers += boxes(D_BOX, D_PTS, DX, DY,
    axis("left", left_off(1637.3), [8, 9, 10, 11, 12], size=30, tick=18, pad=15),
    axis("bottom", bottom_off(1727.8), [1, 2], tick=16.6, labels=False))
layers.append(alt.Chart(pd.DataFrame(D_LABELS, columns=["t", "x"]).assign(y=8)).mark_text(font=SANS, fontSize=39, color="black", baseline="middle").encode(
    x=alt.X("x:Q", scale=DX, axis=None), y=alt.value(1791 - M), text="t:N"))

# --- C: GWAS/SMR
layers.append(alt.Chart(pairs(C_GWAS + C_GWAS_2)).mark_circle(size=18, color="#adadad", opacity=1).encode(
    **xy(CX, CY, xaxis=axis("bottom", bottom_off(1741.7), [17.2, 17.3, 17.4, 17.5, 17.6, 17.7], size=25, tick=16, pad=15, dw=3, fmt=".1f"),
         yaxis=axis("left", left_off(134.2), [0, 5, 10, 15, 20], size=25, tick=16, pad=15))))
layers.append(alt.Chart(pd.DataFrame({"x": [17.144], "x1": [17.697], "y": [5.3]})).mark_rule(color=PLUM, strokeWidth=2, strokeDash=[8, 6]).encode(
    x=alt.X("x:Q", scale=CX, axis=None), x2="x1:Q", y=alt.Y("y:Q", scale=CY, axis=None)))
layers.append(alt.Chart(pd.DataFrame({"x": [17.144], "x1": [17.697], "y": [-.98]})).mark_rule(color="#777777", strokeWidth=2, strokeDash=[2, 3]).encode(
    x=alt.X("x:Q", scale=CX, axis=None), x2="x1:Q", y=alt.Y("y:Q", scale=CY, axis=None)))
layers.append(alt.Chart(pd.DataFrame({"x": [17.3954], "y": [8.35], "y1": [20]})).mark_rule(color=PLUM, strokeWidth=2, strokeDash=[2, 4]).encode(
    x=alt.X("x:Q", scale=CX, axis=None), y=alt.Y("y:Q", scale=CY, axis=None), y2="y1:Q"))
layers.append(alt.Chart(pd.DataFrame({"x": [17.3954], "y": [8.35]})).mark_point(shape="diamond", size=324, filled=False, color=PLUM, strokeWidth=2, opacity=1).encode(**xy(CX, CY)))

# --- C: eQTL
XPATH = "M-1,-1L1,1M-1,1L1,-1"
layers.append(alt.Chart(pairs(C_EQTL)).mark_point(shape=XPATH, size=121, filled=False, color="#b03060", strokeWidth=1.8, opacity=1).encode(
    **xy(CX, QY, yaxis=axis("left", left_off(134.2), [0, 23.33, 46.67, 70], size=25, tick=16, pad=15, expr="format(datum.value,'.0f')"))))
adf = pd.DataFrame(C_ARROWS, columns=["x1", "x"]).assign(y=-22.5)
layers.append(alt.Chart(adf).mark_rule(color=GOLD, strokeWidth=2.5).encode(
    x=alt.X("x:Q", scale=CX, axis=None), x2="x1:Q", y=alt.Y("y:Q", scale=QY, axis=None)))
layers.append(alt.Chart(adf).mark_point(shape="M2,-1L0,0L2,1", size=121, filled=False, color=GOLD, strokeWidth=2.5, opacity=1).encode(
    x=alt.X("x:Q", scale=CX, axis=None), y=alt.Y("y:Q", scale=QY, axis=None)))
for label, px, py in [("ATP13A2", 581, 1677), ("PADI2", 788, 1711)]:
    layers.append(txt(label, px, py, 22, style="italic"))

# --- text annotations
layers += [
    txt("A", 8, 47, 44, font=SERIF, align="left", baseline="alphabetic"),
    txt("B", 1495, 47, 44, font=SERIF, align="left", baseline="alphabetic"),
    txt("C", 8, 971, 48, font=SERIF, align="left", baseline="alphabetic"),
    txt("D", 1494, 971, 48, font=SERIF, align="left", baseline="alphabetic"),
    txt("PADI2", 724, 33, 43),
    txt("\u2212log\u2081\u2080(p\u2212value)", 66, 355, 34, color=GREY, angle=270),
    txt("Recombination rate (cM/Mb)", 1380, 413, 35, color=BLUE, angle=90),
    txt("Position on chr1 (Mb)", 780, 864, 35, color=GREY),
    txt("P", 1652, 84, 45, font=SERIF, style="italic", align="left"),
    txt("= 6.43E-6", 1690, 84, 45, font=SERIF, align="left"),
    txt("Expression levels of PADI2", 1500, 360, 37.5, angle=270),
    txt("rs2076595", 1797, 820, 39),
    txt("P", 1675, 1069, 45, font=SERIF, style="italic", align="left"),
    txt("= 3.21E-2", 1714, 1069, 45, font=SERIF, align="left"),
    txt("Expression levels of PADI2", 1521, 1375, 38, angle=270),
    txt("\u2212log\u2081\u2080(", 34, 1323, 25, angle=270, align="left", baseline="alphabetic"),
    txt("P", 34, 1248, 25, style="italic", angle=270, align="left", baseline="alphabetic"),
    txt("GWAS or SMR)", 34, 1222, 25, angle=270, align="left", baseline="alphabetic"),
    txt("\u2212log\u2081\u2080(", 34, 1665, 30, angle=270, align="left", baseline="alphabetic"),
    txt("P", 34, 1577, 30, style="italic", angle=270, align="left", baseline="alphabetic"),
    txt("eQTL)", 34, 1549, 30, angle=270, align="left", baseline="alphabetic"),
    txt("ILMN_1771223 (", 738, 1053, 25.3, color=PLUM, angle=329, align="left", baseline="alphabetic"),
    txt("PADI2", 899.6, 956, 25.3, color=PLUM, style="italic", angle=329, align="left", baseline="alphabetic"),
    txt(")", 963.6, 917.6, 25.3, color=PLUM, angle=329, align="left", baseline="alphabetic"),
    txt("pSMR = 5e\u221206", 1395, 1295, 25, color=PLUM, style="italic", align="right"),
    txt("ILMN_1771223 (", 182, 1498, 25, align="left"),
    txt("PADI2", 368, 1498, 25, style="italic", align="left"),
    txt(")", 442, 1498, 25, align="left"),
    txt("Chromosome 1 Mb", 789, 1833, 26),
]

chart = alt.layer(*layers).resolve_scale(x="independent", y="independent").properties(
    width=W, height=H, padding=0, autosize=alt.AutoSizeParams(type="none")
).configure_view(stroke=None)

chart.save("out.html", embed_options={"renderer": "svg", "actions": False})
